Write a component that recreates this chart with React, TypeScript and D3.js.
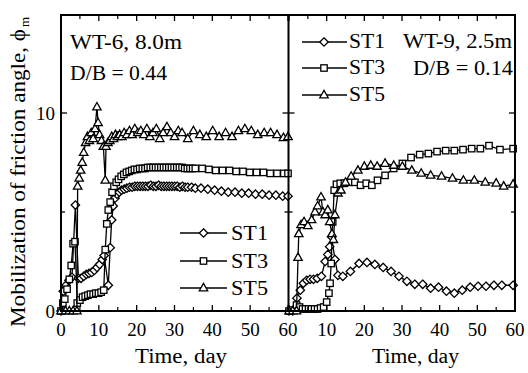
import React from "react";
import * as d3 from "d3";

type Pt = [number, number];

// WT-6, 8.0m (left panel)
const wt6ST1: Pt[] = [[0,0],[0.6,1.0],[1.3,1.3],[2.1,1.55],[2.9,1.7],[3.8,5.35],[4.6,1.65],[5.3,1.65],[6.0,1.75],[6.7,1.85],[7.4,1.9],[8.1,1.95],[8.8,2.05],[9.5,2.2],[10.2,2.35],[10.9,2.6],[11.4,2.8],[12.5,1.3],[13.0,3.2],[13.4,4.6],[13.8,5.3],[14.3,5.7],[14.8,5.9],[15.4,6.0],[16.0,6.1],[16.7,6.15],[17.4,6.2],[18.1,6.25],[18.8,6.25],[19.5,6.3],[20.2,6.3],[20.9,6.3],[21.6,6.3],[22.3,6.3],[23.0,6.3],[23.7,6.35],[24.4,6.3],[25.1,6.3],[25.8,6.35],[26.5,6.3],[27.2,6.3],[27.9,6.3],[28.6,6.3],[29.3,6.3],[30.0,6.3],[30.7,6.3],[31.4,6.25],[32.1,6.3],[32.8,6.25],[33.5,6.25],[34.5,6.25],[35.5,6.2],[37.0,6.2],[38.8,6.15],[40.6,6.1],[42.4,6.05],[44.2,6.0],[46.0,6.0],[47.8,5.95],[49.6,5.95],[51.4,5.9],[53.2,5.9],[55.0,5.85],[56.8,5.85],[58.6,5.8],[60,5.8]];
const wt6ST3: Pt[] = [[0,0],[0.5,0.4],[1.0,0.6],[1.6,1.1],[2.2,1.6],[2.7,2.3],[3.2,3.4],[3.7,3.5],[4.3,0.4],[5.0,0.55],[5.7,0.7],[6.4,0.75],[7.1,0.8],[7.8,0.85],[8.5,0.85],[9.2,0.9],[9.9,0.9],[10.6,0.95],[11.3,1.05],[11.7,3.1],[12.1,4.4],[12.5,5.1],[13.0,5.5],[13.5,6.0],[14.0,6.3],[14.6,6.5],[15.2,6.65],[15.9,6.8],[16.6,6.9],[17.3,7.0],[18.0,7.05],[18.7,7.1],[19.4,7.15],[20.1,7.15],[20.8,7.2],[21.5,7.2],[22.2,7.2],[22.9,7.25],[23.6,7.25],[24.3,7.25],[25.0,7.25],[25.7,7.25],[26.4,7.25],[27.1,7.25],[27.8,7.25],[28.5,7.25],[29.2,7.25],[29.9,7.25],[30.6,7.25],[31.3,7.25],[32.0,7.25],[32.7,7.2],[33.4,7.2],[34.1,7.2],[34.8,7.2],[35.5,7.2],[37.3,7.2],[39.1,7.15],[40.9,7.1],[42.7,7.1],[44.5,7.1],[46.3,7.05],[48.1,7.05],[49.9,7.0],[51.7,7.0],[53.5,7.0],[55.3,6.95],[57.1,6.95],[58.9,6.95],[60,6.95]];
const wt6ST5: Pt[] = [[0,0],[1.2,0],[2.2,0],[3.2,0],[4.2,0],[4.4,6.3],[4.8,6.7],[5.2,7.1],[5.6,7.5],[6.0,8.0],[6.5,8.5],[7.0,8.8],[7.5,8.6],[8.0,9.0],[8.5,8.7],[9.0,9.2],[9.5,10.3],[9.8,9.5],[10.2,8.9],[10.7,8.6],[11.2,8.3],[11.7,6.6],[11.9,8.3],[12.4,8.5],[12.9,8.6],[13.4,8.8],[13.9,8.7],[14.4,8.9],[14.9,8.8],[15.5,8.9],[16.1,8.8],[16.7,9.0],[17.4,8.9],[18.1,9.1],[18.8,8.9],[19.5,9.2],[20.3,9.0],[21.1,9.1],[21.9,8.9],[22.7,9.2],[23.5,8.8],[24.3,9.0],[25.2,9.2],[26.1,8.7],[27.0,9.0],[28.0,9.3],[29.0,9.0],[30.0,8.8],[31.0,9.1],[32.0,9.0],[33.5,8.7],[35.0,9.1],[36.7,8.9],[38.4,8.8],[40.1,9.1],[41.8,8.8],[43.5,9.0],[45.2,8.8],[46.9,9.1],[48.6,9.2],[50.3,9.1],[52.0,8.9],[53.7,9.0],[55.4,9.0],[57.1,8.9],[58.8,8.75],[60,8.8]];

// WT-9, 2.5m (right panel)
const wt9ST1: Pt[] = [[0,0],[1.0,0],[2.1,0.65],[3.0,1.05],[3.8,1.4],[4.7,1.55],[5.6,1.6],[6.5,1.6],[7.5,1.65],[8.6,1.75],[9.6,2.5],[10.3,2.85],[10.8,3.25],[11.3,3.75],[12.2,2.6],[13.0,1.8],[14.3,1.75],[16.3,2.0],[18.6,2.4],[20.7,2.45],[22.8,2.35],[25.0,2.2],[27.1,2.0],[29.2,1.75],[31.3,1.5],[33.4,1.35],[35.5,1.35],[37.6,1.15],[39.7,1.2],[41.8,1.0],[43.9,0.9],[46.0,1.05],[48.1,1.2],[50.2,1.25],[52.3,1.25],[54.4,1.3],[56.5,1.3],[59.5,1.3]];
const wt9ST3: Pt[] = [[0,0],[1.0,0.05],[2.0,0.3],[2.8,0.2],[3.6,0.1],[4.4,0.1],[5.2,0.1],[6.0,0.1],[6.8,0.1],[7.6,0.1],[8.4,0.15],[9.2,0.2],[10.0,0.45],[10.6,0.9],[10.9,1.4],[11.2,2.4],[11.6,4.5],[12.0,6.1],[12.6,6.4],[13.6,6.45],[14.7,6.45],[16.0,6.5],[17.5,6.5],[19.0,6.35],[20.5,6.45],[22.0,6.35],[23.5,6.6],[25.5,6.85],[27.8,7.2],[30.1,7.45],[32.4,7.75],[34.7,7.9],[37.0,7.95],[39.3,8.05],[41.6,8.1],[43.9,8.1],[46.2,8.15],[48.5,8.2],[50.8,8.2],[53.1,8.35],[56.0,8.15],[59.5,8.2]];
const wt9ST5: Pt[] = [[0,0],[1.0,0],[2.0,0],[2.4,2.7],[2.6,3.9],[3.2,4.35],[4.0,4.5],[5.0,4.3],[6.0,4.6],[6.9,5.0],[7.6,5.3],[8.5,5.75],[9.0,5.0],[9.6,4.85],[10.3,5.1],[10.8,4.5],[11.4,3.9],[11.8,3.6],[12.2,4.85],[13.0,5.95],[13.8,6.1],[15.0,6.5],[16.5,6.8],[18.3,7.1],[20.0,7.3],[21.7,7.35],[23.4,7.3],[25.5,7.45],[27.8,7.35],[30.1,7.3],[32.6,7.1],[35.1,6.95],[37.6,6.85],[40.5,6.8],[43.4,6.7],[46.3,6.6],[49.2,6.6],[52.1,6.5],[55.0,6.45],[57.0,6.3],[59.5,6.4]];

const seriesNames = ["ST1", "ST3", "ST5"];
const xMajorTicks = [0, 10, 20, 30, 40, 50, 60];
const xMinorTicks = [5, 15, 25, 35, 45, 55];
const yMajorTicks = [0, 10];
const yMinorTicks = [5];
const xTickLabelsLeft = ["0", "10", "20", "30", "40", "50", "60"];
const xTickLabelsRight = ["10", "20", "30", "40", "50", "60"];

const FONT = "Liberation Serif, Times New Roman, Times, serif";
const txt = { fontFamily: FONT, fill: "#000" } as React.CSSProperties;

type Shape = "diamond" | "square" | "triangle";

function Marker({ x, y, shape }: { x: number; y: number; shape: Shape }) {
  if (shape === "diamond") {
    return <path d={`M${x},${y - 4.2}L${x + 4.2},${y}L${x},${y + 4.2}L${x - 4.2},${y}Z`} fill="#fff" stroke="#000" strokeWidth={1.3} />;
  }
  if (shape === "square") {
    return <rect x={x - 3.2} y={y - 3.2} width={6.4} height={6.4} fill="#fff" stroke="#000" strokeWidth={1.3} />;
  }
  return <path d={`M${x},${y - 4.6}L${x + 4.2},${y + 2.8}L${x - 4.2},${y + 2.8}Z`} fill="#fff" stroke="#000" strokeWidth={1.3} />;
}

const shapes: Shape[] = ["diamond", "square", "triangle"];

function Series({ data, x, y, shape }: { data: Pt[]; x: d3.ScaleLinear<number, number>; y: d3.ScaleLinear<number, number>; shape: Shape }) {
  const line = d3.line<Pt>().x((d) => x(d[0])).y((d) => y(d[1]));
  return (
    <g>
      <path d={line(data) || ""} fill="none" stroke="#000" strokeWidth={1.3} />
      {data.map((d, i) => (
        <Marker key={i} x={x(d[0])} y={y(d[1])} shape={shape} />
      ))}
    </g>
  );
}

export default function App() {
  const top = 15, bottom = 311;
  const xL = d3.scaleLinear().domain([0, 60]).range([61, 288]);
  const xR = d3.scaleLinear().domain([0, 60]).range([289, 515]);
  const y = d3.scaleLinear().domain([0, 15]).range([bottom, bottom - 15 * 19.8]);

  const ticks: React.ReactNode[] = [];
  const addXTicks = (x: d3.ScaleLinear<number, number>, key: string) => {
    xMajorTicks.forEach((t, i) => {
      const px = x(t);
      ticks.push(<line key={`${key}bM${i}`} x1={px} x2={px} y1={bottom} y2={bottom - 6} stroke="#000" strokeWidth={1.3} />);
      ticks.push(<line key={`${key}tM${i}`} x1={px} x2={px} y1={top} y2={top + 6} stroke="#000" strokeWidth={1.3} />);
    });
    xMinorTicks.forEach((t, i) => {
      const px = x(t);
      ticks.push(<line key={`${key}bm${i}`} x1={px} x2={px} y1={bottom} y2={bottom - 4} stroke="#000" strokeWidth={1.2} />);
      ticks.push(<line key={`${key}tm${i}`} x1={px} x2={px} y1={top} y2={top + 4} stroke="#000" strokeWidth={1.2} />);
    });
  };
  addXTicks(xL, "L");
  addXTicks(xR, "R");
  const yTickSet = [...yMajorTicks.map((t) => ({ t, len: 6 })), ...yMinorTicks.map((t) => ({ t, len: 4 }))];
  yTickSet.forEach(({ t, len }, i) => {
    const py = y(t);
    ticks.push(<line key={`yl${i}`} x1={61} x2={61 + len} y1={py} y2={py} stroke="#000" strokeWidth={1.3} />);
    ticks.push(<line key={`ym${i}`} x1={288.5 - len} x2={288.5 + len} y1={py} y2={py} stroke="#000" strokeWidth={1.3} />);
    ticks.push(<line key={`yr${i}`} x1={515 - len} x2={515} y1={py} y2={py} stroke="#000" strokeWidth={1.3} />);
  });

  const leftData = [wt6ST1, wt6ST3, wt6ST5];
  const rightData = [wt9ST1, wt9ST3, wt9ST5];
  const legLeftY = [233, 261, 288];
  const legRightY = [42, 68, 95];

  return (
    <svg width={528} height={373} style={{ position: "absolute", left: 0, top: 0, background: "#fff", fontFamily: FONT }}>
      <rect x={0} y={0} width={528} height={373} fill="#fff" />
      {leftData.map((d, i) => (
        <Series key={`l${i}`} data={d} x={xL} y={y} shape={shapes[i]} />
      ))}
      {rightData.map((d, i) => (
        <Series key={`r${i}`} data={d} x={xR} y={y} shape={shapes[i]} />
      ))}
      <rect x={61} y={top} width={454} height={bottom - top} fill="none" stroke="#000" strokeWidth={2} />
      <line x1={288.5} x2={288.5} y1={top} y2={bottom} stroke="#000" strokeWidth={2} />
      {ticks}
      {yMajorTicks.map((t) => (
        <text key={`yt${t}`} x={55} y={y(t) + 6.5} fontSize={19} textAnchor="end" style={txt}>{String(t)}</text>
      ))}
      {xMajorTicks.map((t, i) => (
        <text key={`xl${t}`} x={xL(t)} y={336} fontSize={19} textAnchor="middle" style={txt}>{xTickLabelsLeft[i]}</text>
      ))}
      {xMajorTicks.slice(1).map((t, i) => (
        <text key={`xr${t}`} x={xR(t)} y={336} fontSize={19} textAnchor="middle" style={txt}>{xTickLabelsRight[i]}</text>
      ))}
      <text x={135} y={363} fontSize={20} textLength={92} lengthAdjust="spacingAndGlyphs" style={txt}>Time, day</text>
      <text x={372} y={363} fontSize={20} textLength={87} lengthAdjust="spacingAndGlyphs" style={txt}>Time, day</text>
      <g transform="translate(25,327) rotate(-90)">
        <text x={0} y={0} fontSize={20} textLength={298} lengthAdjust="spacingAndGlyphs" style={txt}>Mobilization of friction angle, ϕ</text>
        <text x={300} y={4} fontSize={13} style={txt}>m</text>
      </g>
      <text x={70} y={49} fontSize={20} textLength={112} lengthAdjust="spacingAndGlyphs" style={txt}>WT-6, 8.0m</text>
      <text x={70} y={80} fontSize={20} textLength={97} lengthAdjust="spacingAndGlyphs" style={txt}>D/B = 0.44</text>
      <text x={403} y={48} fontSize={20} textLength={109} lengthAdjust="spacingAndGlyphs" style={txt}>WT-9, 2.5m</text>
      <text x={413} y={75} fontSize={20} textLength={100} lengthAdjust="spacingAndGlyphs" style={txt}>D/B = 0.14</text>
      {seriesNames.map((n, i) => (
        <g key={`ll${n}`}>
          <line x1={180} x2={227} y1={legLeftY[i]} y2={legLeftY[i]} stroke="#000" strokeWidth={1.3} />
          <Marker x={203.5} y={legLeftY[i]} shape={shapes[i]} />
          <text x={231} y={legLeftY[i] + 7} fontSize={20} textLength={37} lengthAdjust="spacingAndGlyphs" style={txt}>{n}</text>
        </g>
      ))}
      {seriesNames.map((n, i) => (
        <g key={`lr${n}`}>
          <line x1={302} x2={347} y1={legRightY[i]} y2={legRightY[i]} stroke="#000" strokeWidth={1.3} />
          <Marker x={324} y={legRightY[i]} shape={shapes[i]} />
          <text x={349} y={legRightY[i] + 6} fontSize={20} textLength={36} lengthAdjust="spacingAndGlyphs" style={txt}>{n}</text>
        </g>
      ))}
    </svg>
  );
}
